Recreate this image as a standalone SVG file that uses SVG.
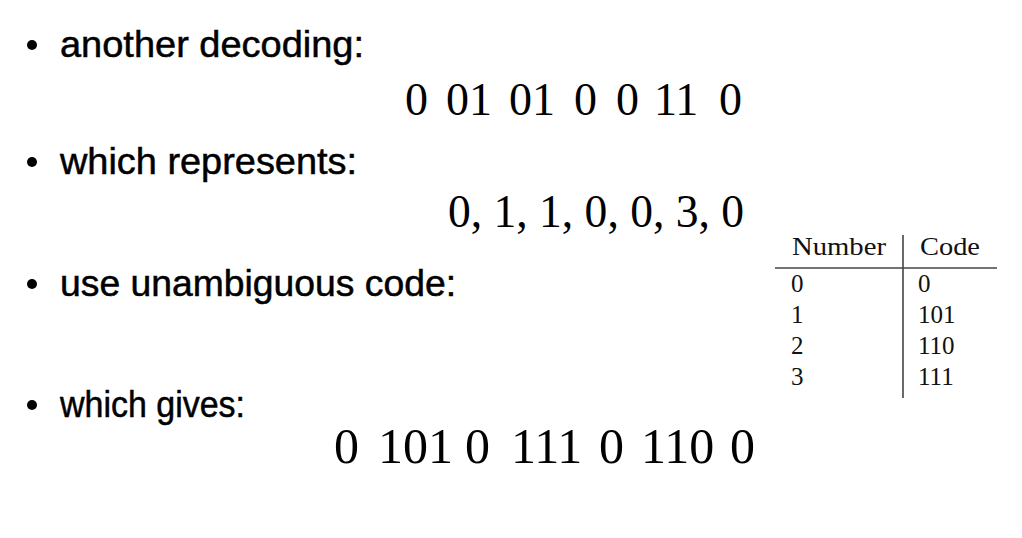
<svg xmlns="http://www.w3.org/2000/svg" width="1022" height="538" viewBox="0 0 1022 538">
<style>
.b{font-family:"Liberation Sans",Arial,sans-serif;font-size:36px;fill:#000;stroke:#000;stroke-width:0.5}
.m{font-family:"Liberation Serif","Times New Roman",serif;font-size:46px;fill:#000}
.m2{font-family:"Liberation Serif","Times New Roman",serif;font-size:50px;fill:#000}
.t{font-family:"Liberation Serif","Times New Roman",serif;font-size:25px;fill:#111}
.dot{fill:#000}
.rule{stroke:#444;stroke-width:1.6;fill:none}
</style>
<rect width="1022" height="538" fill="#fff"/>
<g id="bullet1">
<circle class="dot" cx="32" cy="45" r="5"/>
<text class="b" x="60" y="57" textLength="304" lengthAdjust="spacingAndGlyphs">another decoding:</text>
</g>
<g id="decoding">
<text class="m" y="115"><tspan x="405">0</tspan><tspan x="446">01</tspan><tspan x="509">01</tspan><tspan x="574">0</tspan><tspan x="616">0</tspan><tspan x="654">11</tspan><tspan x="719">0</tspan></text>
</g>
<g id="bullet2">
<circle class="dot" cx="32" cy="162" r="5"/>
<text class="b" x="60" y="174" textLength="297" lengthAdjust="spacingAndGlyphs">which represents:</text>
</g>
<g id="represents">
<text class="m" x="448" y="227" textLength="296" lengthAdjust="spacingAndGlyphs">0, 1, 1, 0, 0, 3, 0</text>
</g>
<g id="bullet3">
<circle class="dot" cx="32" cy="284" r="5"/>
<text class="b" x="60" y="296" textLength="396" lengthAdjust="spacingAndGlyphs">use unambiguous code:</text>
</g>
<g id="bullet4">
<circle class="dot" cx="32" cy="405" r="5"/>
<text class="b" x="60" y="417" textLength="185" lengthAdjust="spacingAndGlyphs">which gives:</text>
</g>
<g id="gives">
<text class="m2" y="463"><tspan x="334">0</tspan><tspan x="378">101</tspan><tspan x="465">0</tspan><tspan x="511">111</tspan><tspan x="599">0</tspan><tspan x="641">110</tspan><tspan x="730">0</tspan></text>
</g>
<g id="table">
<line class="rule" x1="775" y1="268" x2="997" y2="268"/>
<line class="rule" x1="903" y1="235" x2="903" y2="398"/>
<text class="t" x="792" y="255" textLength="94" lengthAdjust="spacingAndGlyphs">Number</text>
<text class="t" x="920" y="255" textLength="60" lengthAdjust="spacingAndGlyphs">Code</text>
<text class="t" x="791" y="292">0</text>
<text class="t" x="791" y="323">1</text>
<text class="t" x="791" y="354">2</text>
<text class="t" x="791" y="385">3</text>
<text class="t" x="918" y="292">0</text>
<text class="t" x="918" y="323">101</text>
<text class="t" x="918" y="354">110</text>
<text class="t" x="918" y="385">111</text>
</g>
</svg>
